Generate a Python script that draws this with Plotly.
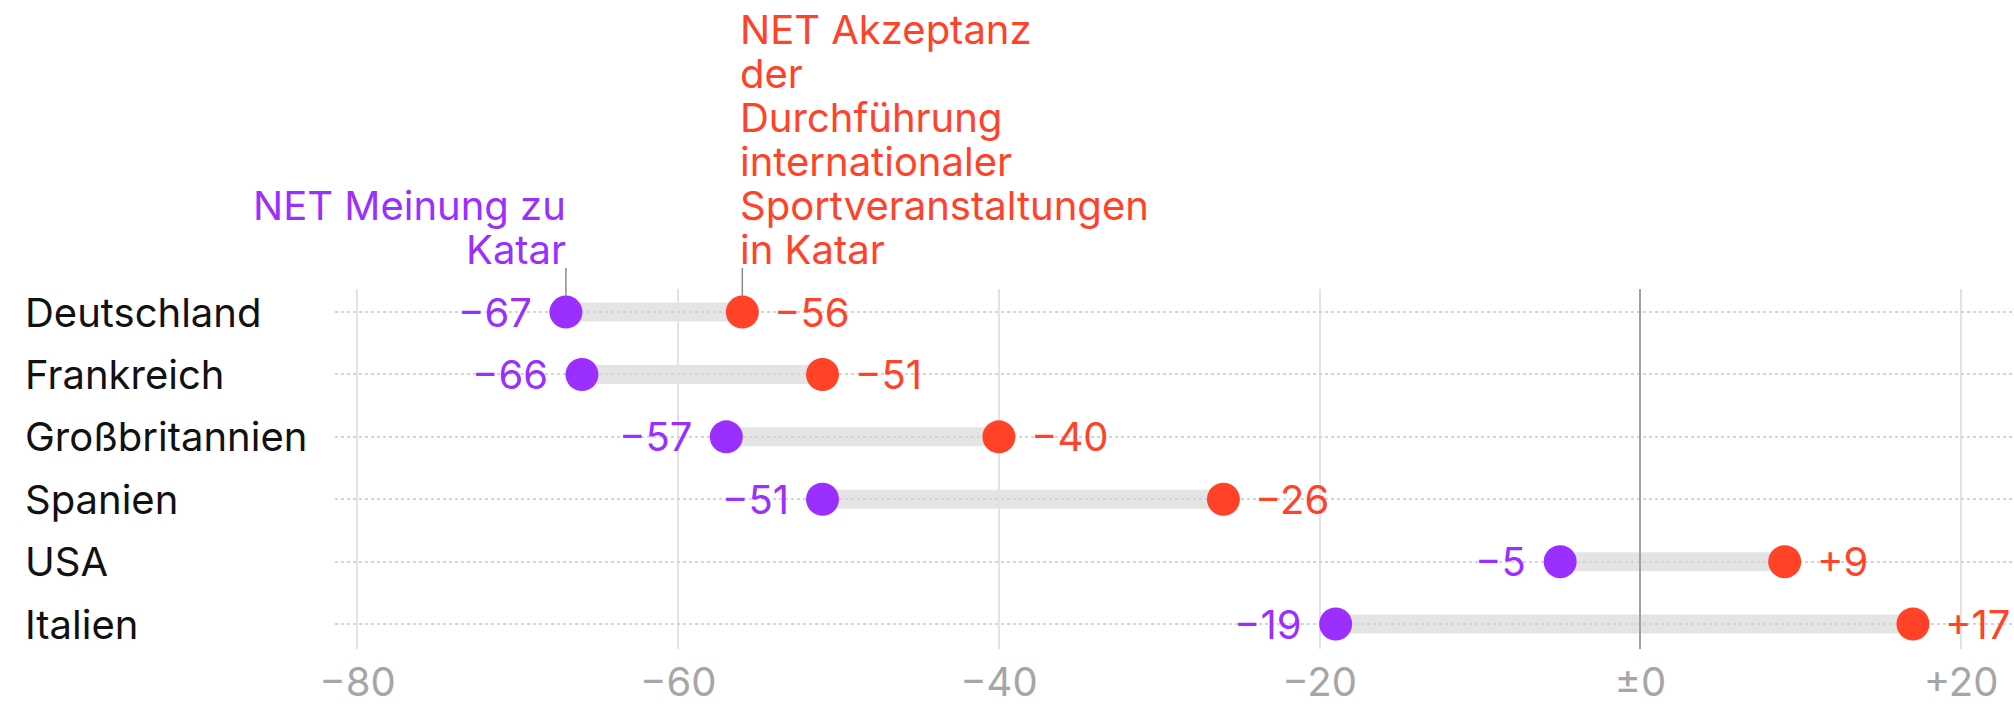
import plotly.graph_objects as go

countries = ["Deutschland", "Frankreich", "Großbritannien", "Spanien", "USA", "Italien"]
meinung = [-67, -66, -57, -51, -5, -19]
akzeptanz = [-56, -51, -40, -26, 9, 17]
tick_vals = [-80, -60, -40, -20, 0, 20]
tick_text = ["−80", "−60", "−40", "−20", "±0", "+20"]
label_meinung = ["NET Meinung zu", "Katar"]
label_akzeptanz = ["NET Akzeptanz", "der", "Durchführung", "internationaler",
                   "Sportveranstaltungen", "in Katar"]

PURPLE = "#9B2FFF"
RED = "#FF4228"
FONT = "Inter"
FS = 40

W, H = 2014, 710
L, R, T, B = 335, 0, 289, 61
plot_h = H - T - B
plot_w = W - L - R


def fmt(v):
    if v > 0:
        return "+%d" % v
    if v < 0:
        return "−%d" % abs(v)
    return "±0"


def ypaper(px):
    return 1 + (T - px) / plot_h


fig = go.Figure()

# gray connecting bars (drawn below the gridlines, like the reference)
shapes = []
for c, a, b in zip(countries, meinung, akzeptanz):
    shapes.append(dict(type="line", xref="x", yref="y", x0=a, x1=b, y0=c, y1=c,
                       line=dict(color="#E4E4E4", width=19), layer="below"))

fig.add_trace(go.Scatter(x=meinung, y=countries, mode="markers",
                         marker=dict(color=PURPLE, size=33, line=dict(width=0)),
                         showlegend=False))
fig.add_trace(go.Scatter(x=akzeptanz, y=countries, mode="markers",
                         marker=dict(color=RED, size=33, line=dict(width=0)),
                         showlegend=False))

annotations = []
for c, a, b in zip(countries, meinung, akzeptanz):
    annotations.append(dict(x=a, y=c, xref="x", yref="y", text=fmt(a), showarrow=False,
                            xanchor="right", yanchor="middle", xshift=-32,
                            font=dict(family=FONT, size=FS, color=PURPLE)))
    annotations.append(dict(x=b, y=c, xref="x", yref="y", text=fmt(b), showarrow=False,
                            xanchor="left", yanchor="middle", xshift=30,
                            font=dict(family=FONT, size=FS, color=RED)))
    annotations.append(dict(x=(23 - L) / plot_w, y=c, xref="paper", yref="y", text=c,
                            showarrow=False, xanchor="left", yanchor="middle",
                            font=dict(family=FONT, size=FS, color="#111111")))

# header labels (one annotation per line for the tight line spacing)
red_centers = [30, 74, 118, 162, 206, 250]
for txt, yc in zip(label_akzeptanz, red_centers):
    annotations.append(dict(x=akzeptanz[0], y=ypaper(yc), xref="x", yref="paper", text=txt,
                            showarrow=False, xanchor="left", yanchor="middle", xshift=-4,
                            font=dict(family=FONT, size=FS, color=RED)))
purple_centers = [206, 250]
for txt, yc in zip(label_meinung, purple_centers):
    annotations.append(dict(x=meinung[0], y=ypaper(yc), xref="x", yref="paper", text=txt,
                            showarrow=False, xanchor="right", yanchor="middle", xshift=2,
                            font=dict(family=FONT, size=FS, color=PURPLE)))

for v in (meinung[0], akzeptanz[0]):
    shapes.append(dict(type="line", xref="x", yref="paper", x0=v, x1=v,
                       y0=ypaper(296), y1=ypaper(268),
                       line=dict(color="#8A8A8A", width=1.5), layer="above"))

fig.update_layout(
    width=W, height=H,
    margin=dict(l=L, r=R, t=T, b=B, autoexpand=False),
    paper_bgcolor="white", plot_bgcolor="white",
    annotations=annotations, shapes=shapes,
    xaxis=dict(range=[-81.4, 23.3], tickvals=tick_vals, ticktext=tick_text,
               showgrid=True, gridcolor="#E3E3E3", gridwidth=2,
               zeroline=True, zerolinecolor="#A0A0A0", zerolinewidth=2,
               showline=False, ticks="", automargin=False, ticklabelstandoff=6,
               tickfont=dict(family=FONT, size=FS, color="#A6A6A6"),
               fixedrange=True),
    yaxis=dict(type="category", categoryarray=countries, range=[5.4, -0.37],
               showticklabels=False, showgrid=True, gridcolor="#D4D4D4", gridwidth=2,
               griddash="dot", zeroline=False, showline=False, ticks="",
               automargin=False, fixedrange=True),
    font=dict(family=FONT),
    hovermode=False,
)

fig.write_html("out.html", config={"displayModeBar": False},
               post_script="document.body.style.margin='0';")
